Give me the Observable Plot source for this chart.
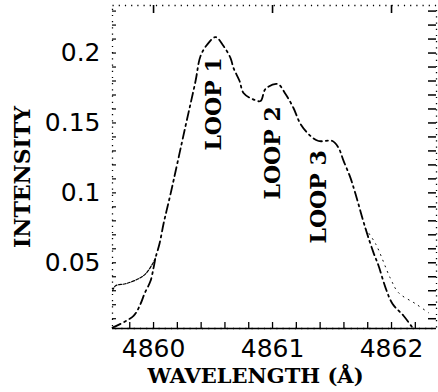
<!DOCTYPE html>
<html><head><meta charset="utf-8">
<script src="https://cdn.jsdelivr.net/npm/d3@7"></script>
<script src="https://cdn.jsdelivr.net/npm/@observablehq/plot@0.6"></script>
<style>body{margin:0;background:#fff}</style>
</head><body><div id="chart"></div>
<script>
// Main dash-dot profile
const mainWl  = [4859.655,4859.832,4859.891,4859.924,4859.975,4860.000,4860.017,4860.050,4860.084,4860.109,4860.143,4860.269,4860.353,4860.395,4860.454,4860.521,4860.588,4860.647,4860.672,4860.723,4860.756,4860.832,4860.899,4860.941,4861.042,4861.109,4861.176,4861.235,4861.319,4861.387,4861.504,4861.555,4861.597,4861.655,4861.697,4861.782,4861.849,4861.891,4861.950,4862.008,4862.101,4862.176];
const mainInt = [0.0036,0.0121,0.0207,0.0279,0.0371,0.0464,0.0536,0.0636,0.0779,0.0871,0.0993,0.1479,0.1800,0.1979,0.2064,0.2114,0.2050,0.1964,0.1893,0.1800,0.1714,0.1671,0.1657,0.1743,0.1779,0.1707,0.1607,0.1493,0.1407,0.1371,0.1371,0.1321,0.1229,0.1107,0.0993,0.0743,0.0571,0.0479,0.0321,0.0207,0.0121,0.0036];
// Faint left wing
const leftWl  = [4859.655,4859.681,4859.765,4859.874,4859.933,4859.992,4860.017];
const leftInt = [0.0300,0.0336,0.0350,0.0386,0.0421,0.0493,0.0536];
// Faint right wing
const rightWl  = [4861.782,4861.866,4861.992,4862.059,4862.202,4862.311];
const rightInt = [0.0743,0.0636,0.0386,0.0286,0.0207,0.0143];

const xTicks = [4860, 4861, 4862];
const xTickLabels = ["4860", "4861", "4862"];
const yTicks = [0.05, 0.1, 0.15, 0.2];
const yTickLabels = ["0.05", "0.1", "0.15", "0.2"];
const xMinor = [4859.8,4860,4860.2,4860.4,4860.6,4860.8,4861,4861.2,4861.4,4861.6,4861.8,4862,4862.2];
const yMinor = [0.01,0.02,0.03,0.04,0.05,0.06,0.07,0.08,0.09,0.1,0.11,0.12,0.13,0.14,0.15,0.16,0.17,0.18,0.19,0.2,0.21,0.22,0.23];

const loopLabels = ["LOOP 1", "LOOP 2", "LOOP 3"];
const loopWl  = [4860.504, 4861.0, 4861.387];
const loopInt = [0.1636, 0.1286, 0.0971];

const xTitle = "WAVELENGTH (Å)";
const yTitle = "INTENSITY";
const xDomain = [4859.655, 4862.378];
const yDomain = [0.003, 0.234];

const mainData = mainWl.map((x, i) => ({x, y: mainInt[i]}));
const leftData = leftWl.map((x, i) => ({x, y: leftInt[i]}));
const rightData = rightWl.map((x, i) => ({x, y: rightInt[i]}));
const loopData = loopLabels.map((t, i) => ({t, x: loopWl[i], y: loopInt[i]}));

const W = 438, H = 392, mL = 112, mR = 2, mT = 5, mB = 64;
const iw = W - mL - mR, ih = H - mT - mB;
const titleFont = "DejaVu Serif";

const chart = Plot.plot({
  width: W, height: H,
  marginLeft: mL, marginRight: mR, marginTop: mT, marginBottom: mB,
  x: {domain: xDomain},
  y: {domain: yDomain},
  style: {background: "#fff", color: "#000"},
  marks: [
    Plot.frame({stroke: "#000", strokeDasharray: "1.2,5", strokeWidth: 1.3}),
    Plot.ruleY([yDomain[0]], {stroke: "#000", strokeWidth: 1.6}),
    Plot.ruleX(xMinor, {stroke: "#000", strokeWidth: 1.3, insetTop: ih - 6}),
    Plot.ruleX(xTicks, {stroke: "#000", strokeWidth: 1.6, insetBottom: ih - 8}),
    Plot.ruleY(yMinor, {stroke: "#000", strokeWidth: 1.2, insetRight: iw - 4}),
    Plot.ruleY(yMinor, {stroke: "#000", strokeWidth: 1.5, insetLeft: iw - 8}),
    Plot.axisX({ticks: xTicks, tickFormat: d => xTickLabels[xTicks.indexOf(d)], tickSize: 0, tickPadding: 11,
      fontFamily: "DejaVu Sans", fontSize: 25, label: null}),
    Plot.axisY({ticks: yTicks, tickFormat: d => yTickLabels[yTicks.indexOf(d)], tickSize: 0, tickPadding: 12,
      fontFamily: "DejaVu Sans", fontSize: 25, label: null}),
    Plot.line(leftData, {x: "x", y: "y", stroke: "#000", strokeWidth: 1.2, strokeDasharray: "3,1.5", curve: "catmull-rom"}),
    Plot.line(rightData, {x: "x", y: "y", stroke: "#000", strokeWidth: 1, strokeDasharray: "1,5", curve: "catmull-rom"}),
    Plot.line(mainData, {x: "x", y: "y", stroke: "#000", strokeWidth: 1.8, strokeDasharray: "9,4,2,4", curve: "catmull-rom"}),
    Plot.text(loopData, {x: "x", y: "y", text: "t", rotate: -90, fill: "#000",
      fontFamily: titleFont, fontWeight: "bold", fontSize: 22}),
    Plot.text([yTitle], {frameAnchor: "left", textAnchor: "middle", dx: -90, dy: 10, rotate: -90, fill: "#000",
      fontFamily: titleFont, fontWeight: "bold", fontSize: 22}),
    Plot.text([xTitle], {frameAnchor: "bottom", dx: -19, dy: 54, lineAnchor: "bottom", fill: "#000",
      fontFamily: titleFont, fontWeight: "bold", fontSize: 21})
  ]
});
document.getElementById("chart").appendChild(chart);
</script>
</body></html>
